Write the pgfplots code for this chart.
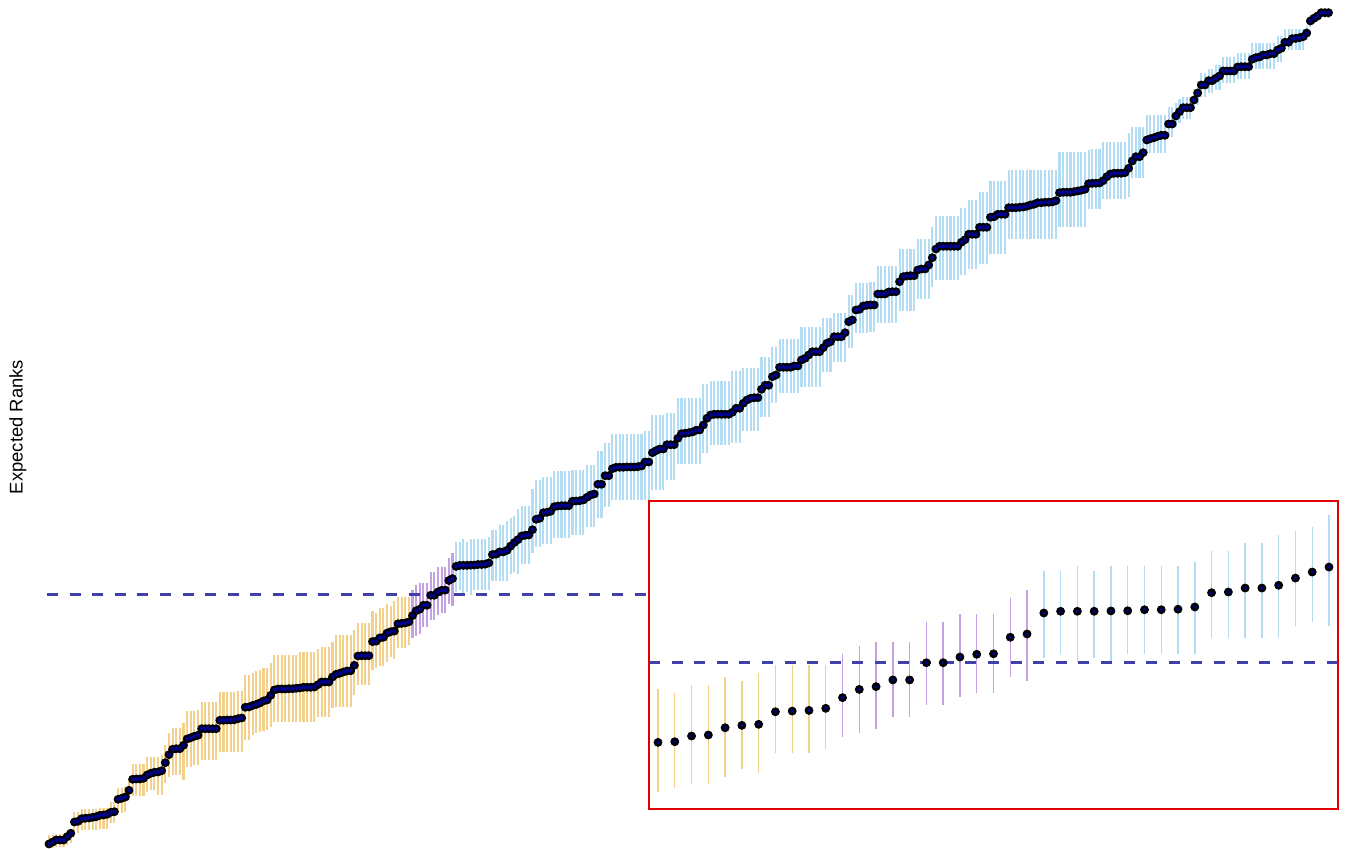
\documentclass[border=0pt]{standalone}
\usepackage{pgfplots}
\usepackage{pgfplotstable}
\pgfplotsset{compat=1.18}
\usepackage{fontspec}
\setmainfont{Liberation Sans}
\definecolor{obar}{RGB}{243,208,140}
\definecolor{pbar}{RGB}{196,160,228}
\definecolor{bbar}{RGB}{180,220,242}
\definecolor{ptc}{RGB}{0,0,139}
\definecolor{dashc}{RGB}{64,64,168}
\definecolor{boxred}{RGB}{225,0,0}
\pgfplotstableread{
i y lo hi
1 5.0 0.7 13.7
2 7.0 0.7 13.7
3 9.0 1.5 14.5
4 9.0 1.5 14.5
5 9.0 1.5 14.5
6 12.3 3.7 18.3
7 15.7 5.5 20.0
8 27.0 15.7 37.3
9 27.7 15.7 37.3
10 30.3 19.0 39.7
11 30.7 19.0 39.7
12 31.0 19.0 39.7
13 31.7 19.0 39.7
14 32.3 19.0 39.7
15 33.7 20.0 41.0
16 34.0 20.0 41.0
17 34.7 20.0 41.0
18 36.7 25.7 47.3
19 37.3 25.7 47.3
20 49.7 36.3 61.3
21 50.7 36.3 61.3
22 52.0 37.0 62.0
23 58.7 49.0 70.7
24 69.7 53.0 85.0
25 70.0 53.0 85.0
26 70.0 53.0 85.0
27 70.7 53.0 85.0
28 74.0 57.0 92.3
29 75.7 59.0 92.3
30 76.7 59.0 92.3
31 77.0 54.0 92.3
32 78.3 54.0 94.0
33 86.3 65.7 104.0
34 94.3 72.3 115.7
35 99.7 74.0 120.7
36 100.3 74.0 120.7
37 100.3 74.0 120.7
38 103.7 69.0 125.7
39 110.0 82.3 138.3
40 111.3 82.3 138.3
41 112.7 84.0 138.3
42 113.7 84.0 139.0
43 120.3 89.0 147.0
44 120.3 89.0 147.0
45 120.3 89.0 147.0
46 120.3 89.0 147.0
47 120.3 89.0 147.0
48 128.7 97.3 156.7
49 128.7 97.3 156.7
50 129.0 97.3 156.7
51 129.0 97.3 156.7
52 129.3 97.3 156.7
53 130.3 97.3 158.0
54 131.0 97.3 158.0
55 141.7 109.0 174.0
56 142.0 109.0 174.0
57 143.5 114.0 176.0
58 144.5 116.0 178.0
59 146.0 117.0 179.0
60 148.0 118.0 181.0
61 149.0 119.0 181.0
62 153.7 122.3 185.7
63 159.0 127.3 194.0
64 160.0 127.3 194.0
65 160.0 127.3 194.0
66 160.0 127.3 194.0
67 160.3 127.3 194.0
68 160.3 127.3 194.0
69 160.7 127.3 194.0
70 161.0 127.3 196.5
71 161.7 127.3 196.5
72 161.7 127.3 196.5
73 161.7 127.3 196.5
74 162.0 127.3 196.5
75 164.3 132.3 199.7
76 167.0 132.3 202.3
77 167.0 132.3 202.3
78 167.0 132.3 202.3
79 172.0 140.7 207.3
80 174.7 142.3 214.0
81 175.7 142.3 214.0
82 177.0 142.3 214.0
83 178.0 142.3 214.0
84 178.3 142.3 214.0
85 183.7 154.0 219.0
86 193.0 164.0 225.7
87 193.3 164.0 225.7
88 193.3 164.0 225.7
89 193.3 164.0 225.7
90 207.4 178.7 238.2
91 207.8 180.7 235.9
92 211.1 183.0 240.6
93 211.7 183.0 240.6
94 215.9 187.4 245.2
95 217.3 192.1 242.9
96 217.9 189.8 247.5
97 225.2 201.4 252.2
98 225.6 201.4 252.2
99 226.0 201.4 252.2
100 227.2 203.5 252.2
101 233.4 210.7 258.9
102 238.2 212.8 263.6
103 239.8 215.2 265.9
104 243.7 222.1 265.9
105 243.7 222.1 265.9
106 253.7 229.1 277.4
107 253.7 229.1 277.4
108 257.0 233.8 282.0
109 258.6 236.1 282.0
110 258.9 236.1 282.0
111 268.5 245.2 291.2
112 270.4 242.9 295.8
113 282.6 256.6 307.2
114 283.6 258.9 307.2
115 283.6 254.3 309.8
116 283.6 256.6 307.2
117 283.8 254.3 309.8
118 283.9 258.9 309.8
119 284.5 258.9 309.8
120 284.5 258.9 309.8
121 284.8 258.9 309.8
122 286.1 258.9 312.1
123 294.4 268.2 318.8
124 294.8 268.2 318.8
125 297.1 268.2 323.5
126 297.1 268.2 323.5
127 298.7 268.2 328.1
128 302.9 275.2 330.5
129 306.4 277.4 332.6
130 309.3 275.2 339.5
131 313.0 285.0 343.0
132 313.7 285.0 343.0
133 314.0 285.0 343.0
134 319.3 295.7 359.7
135 329.7 302.3 369.0
136 330.7 302.3 369.0
137 336.3 305.0 372.0
138 336.7 305.0 372.0
139 337.7 305.0 372.0
140 342.3 311.0 377.7
141 343.0 311.0 377.7
142 343.3 311.0 377.7
143 343.3 311.0 377.7
144 343.3 311.0 377.7
145 347.7 314.0 379.0
146 348.0 314.0 379.0
147 348.3 314.0 379.0
148 349.0 314.0 379.0
149 351.7 322.3 384.0
150 354.0 322.3 384.0
151 355.0 322.3 384.0
152 364.7 330.7 398.0
153 364.7 330.7 398.0
154 373.3 342.3 405.7
155 373.3 342.3 405.7
156 380.3 349.0 415.0
157 381.7 349.0 415.0
158 381.7 349.0 415.0
159 381.7 349.0 415.0
160 382.0 349.0 415.0
161 382.0 349.0 415.0
162 382.0 349.0 415.0
163 382.3 349.0 415.0
164 383.0 349.0 415.0
165 387.0 349.0 417.7
166 387.0 349.0 417.7
167 396.3 359.0 434.0
168 398.3 359.0 434.0
169 400.0 359.0 434.0
170 400.0 359.0 434.0
171 404.3 369.0 435.7
172 404.3 369.0 435.7
173 404.3 369.0 435.7
174 410.7 385.0 451.0
175 415.3 385.0 451.0
176 415.7 385.0 451.0
177 416.3 385.0 451.0
178 417.0 385.0 451.0
179 418.7 385.0 451.0
180 419.0 385.0 451.0
181 424.0 395.7 465.0
182 430.7 395.7 465.0
183 434.0 404.0 468.0
184 434.7 404.0 468.0
185 434.7 404.0 468.0
186 434.7 404.0 468.0
187 434.7 404.0 468.0
188 434.7 404.0 468.0
189 436.7 406.0 478.0
190 440.7 406.0 478.0
191 440.7 406.0 478.0
192 445.7 418.0 480.7
193 449.0 418.0 480.7
194 450.7 418.0 480.7
195 451.3 418.0 480.7
196 451.3 418.0 480.7
197 459.7 432.0 492.0
198 463.7 432.0 492.0
199 463.7 432.0 492.0
200 472.3 445.7 502.3
201 474.0 445.7 502.3
202 481.7 455.7 509.7
203 481.7 455.7 509.7
204 481.7 455.7 509.7
205 481.7 455.7 509.7
206 483.0 455.7 509.7
207 483.0 455.7 509.7
208 489.0 462.3 522.0
209 490.7 462.3 522.0
210 494.0 462.3 522.0
211 497.3 462.3 522.0
212 497.3 462.3 522.0
213 497.3 462.3 522.0
214 501.3 477.0 531.0
215 505.7 477.0 531.0
216 507.3 477.0 531.0
217 512.3 487.3 535.7
218 512.3 487.3 535.7
219 512.3 487.3 535.7
220 516.3 487.3 535.7
221 527.3 500.7 554.0
222 529.0 500.7 554.0
223 539.0 516.0 566.0
224 539.7 516.0 566.0
225 543.0 516.0 566.0
226 543.7 516.0 566.0
227 544.0 517.3 567.3
228 544.0 517.3 567.3
229 555.0 526.0 583.0
230 555.0 526.0 583.0
231 555.0 526.0 583.0
232 557.0 526.0 583.0
233 557.3 526.0 583.0
234 557.3 526.0 583.0
235 567.3 538.0 600.0
236 572.3 538.0 600.0
237 573.0 538.0 600.0
238 573.3 538.0 600.0
239 573.3 538.0 600.0
240 579.0 550.0 610.0
241 580.0 550.0 610.0
242 580.0 550.0 610.0
243 584.0 550.0 610.0
244 591.3 562.0 622.0
245 600.0 569.0 633.3
246 602.7 569.0 633.3
247 602.7 569.0 633.3
248 602.7 569.0 633.3
249 602.7 569.0 633.3
250 602.7 569.0 633.3
251 602.7 569.0 633.3
252 606.7 573.7 641.0
253 609.3 573.7 641.0
254 614.7 580.0 649.0
255 614.7 580.0 649.0
256 614.7 580.0 649.0
257 621.7 585.0 657.3
258 621.7 585.0 657.3
259 621.7 585.0 657.3
260 631.7 595.0 668.3
261 632.3 595.0 668.3
262 634.7 595.0 668.3
263 634.7 595.0 668.3
264 634.7 595.0 668.3
265 641.3 610.0 679.0
266 641.3 610.0 679.0
267 641.3 610.0 679.0
268 641.7 610.0 679.0
269 642.0 610.0 679.0
270 642.7 610.0 679.0
271 644.0 610.0 679.0
272 644.7 610.0 679.0
273 646.3 610.0 679.0
274 646.3 610.0 679.0
275 646.7 610.0 679.0
276 646.7 610.0 679.0
277 647.0 610.0 679.0
278 648.3 610.0 679.0
279 656.3 622.3 697.0
280 656.7 622.3 697.0
281 656.7 622.3 697.0
282 656.7 622.3 697.0
283 657.3 622.3 697.0
284 658.0 622.3 697.0
285 658.7 622.3 697.0
286 659.7 622.3 697.0
287 665.3 640.0 699.0
288 665.7 640.0 700.0
289 665.7 640.0 700.0
290 666.0 640.0 700.0
291 668.3 650.0 707.0
292 672.3 650.0 707.0
293 675.0 650.0 707.0
294 675.7 650.0 707.0
295 675.7 650.0 707.0
296 675.7 650.0 707.0
297 676.3 650.0 707.0
298 680.7 652.3 715.7
299 688.0 670.7 721.7
300 692.3 670.7 721.7
301 692.3 670.7 721.7
302 696.3 670.7 721.7
303 709.0 696.0 734.0
304 710.3 696.0 734.0
305 711.3 696.0 734.0
306 712.7 696.0 734.0
307 713.7 696.0 734.0
308 713.7 696.0 734.0
309 725.0 712.3 742.3
310 725.0 712.3 742.3
311 733.0 722.0 746.0
312 737.3 726.0 750.0
313 741.3 730.0 752.0
314 741.3 730.0 752.0
315 741.3 730.0 752.0
316 749.0 739.0 760.0
317 756.0 744.0 768.0
318 764.0 752.0 776.0
319 764.0 752.0 776.0
320 768.3 756.0 780.0
321 768.3 756.0 780.0
322 770.7 759.0 784.0
323 773.0 759.0 784.0
324 778.0 766.0 792.0
325 778.0 766.0 792.0
326 778.0 766.0 792.0
327 778.0 766.0 792.0
328 782.0 770.0 796.0
329 782.3 770.0 796.0
330 782.3 770.0 796.0
331 782.3 770.0 796.0
332 789.7 780.0 806.0
333 791.3 780.0 806.0
334 792.0 780.0 806.0
335 794.0 780.0 806.0
336 794.0 780.0 806.0
337 795.3 780.0 806.0
338 795.3 780.0 806.0
339 799.0 787.0 813.0
340 800.7 787.0 813.0
341 806.7 799.0 820.0
342 806.7 799.0 820.0
343 810.3 799.0 820.0
344 810.6 799.0 820.0
345 811.3 799.0 820.0
346 812.3 799.0 820.0
347 816.0 809.0 823.0
348 828.0 822.0 834.0
349 830.7 825.0 836.0
350 833.0 828.0 838.0
351 836.3 831.0 840.0
352 836.3 831.0 840.0
353 836.3 831.0 840.0
}\ranks
\pgfplotsset{
  ebar/.style 2 args={only marks, mark=none, forget plot,
    error bars/.cd, y dir=both, y explicit, error mark=none,
    error bar style={line width=#1, draw=#2}},
  dots/.style={color=ptc, only marks, mark=*, mark size=#1,
    scatter, point meta=y, scatter/use mapped color={draw=ptc, fill=ptc},
    mark options={fill=ptc, draw opacity=0}},
}
\begin{document}
\begin{tikzpicture}
\path[use as bounding box] (0,0) rectangle (675.5pt,424.5pt);
\begin{axis}[
  at={(0,0)}, anchor=south west,
  scale only axis, width=675.5pt, height=424.5pt,
  xmin=-12.48, xmax=359.18, ymin=0, ymax=849,
  axis line style={draw=none}, xtick=\empty, ytick=\empty,
  clip=false,
]
\addplot[restrict x to domain=1:100, ebar={1.05pt}{obar}]
  table[x=i, y=y, y error plus expr=\thisrow{hi}-\thisrow{y}, y error minus expr=\thisrow{y}-\thisrow{lo}] {\ranks};
\addplot[restrict x to domain=101:112, ebar={1.05pt}{pbar}]
  table[x=i, y=y, y error plus expr=\thisrow{hi}-\thisrow{y}, y error minus expr=\thisrow{y}-\thisrow{lo}] {\ranks};
\addplot[restrict x to domain=113:353, ebar={1.05pt}{bbar}]
  table[x=i, y=y, y error plus expr=\thisrow{hi}-\thisrow{y}, y error minus expr=\thisrow{y}-\thisrow{lo}] {\ranks};
\addplot[dashc, line width=1.5pt, dash pattern=on 5.5pt off 5.8pt, forget plot] coordinates {(0.45,254) (166.0,254)};
\addplot[dots=1.05pt] table[x=i, y=y] {\ranks};
\node[rotate=90, font=\fontsize{9.2}{11}\selectfont, text=black] at (axis description cs:0.0133,0.497) {Expected Ranks};
\end{axis}
\begin{axis}[
  at={(324.5pt,20pt)}, anchor=south west,
  scale only axis, width=344.5pt, height=154pt,
  xmin=89.463, xmax=130.537, ymin=168.7, ymax=347.7,
  axis background/.style={fill=white},
  axis line style={draw=boxred, line width=0.7pt},
  xtick=\empty, ytick=\empty,
]
\addplot[restrict x to domain=90:100, ebar={0.7pt}{obar}]
  table[x=i, y=y, y error plus expr=\thisrow{hi}-\thisrow{y}, y error minus expr=\thisrow{y}-\thisrow{lo}] {\ranks};
\addplot[restrict x to domain=101:112, ebar={0.7pt}{pbar}]
  table[x=i, y=y, y error plus expr=\thisrow{hi}-\thisrow{y}, y error minus expr=\thisrow{y}-\thisrow{lo}] {\ranks};
\addplot[restrict x to domain=113:130, ebar={0.7pt}{bbar}]
  table[x=i, y=y, y error plus expr=\thisrow{hi}-\thisrow{y}, y error minus expr=\thisrow{y}-\thisrow{lo}] {\ranks};
\addplot[dashc, line width=1.5pt, dash pattern=on 5.5pt off 5.8pt, forget plot] coordinates {(89.463,254) (130.537,254)};
\addplot[dots=0.95pt, restrict x to domain=90:130] table[x=i, y=y] {\ranks};
\end{axis}
\end{tikzpicture}
\end{document}
